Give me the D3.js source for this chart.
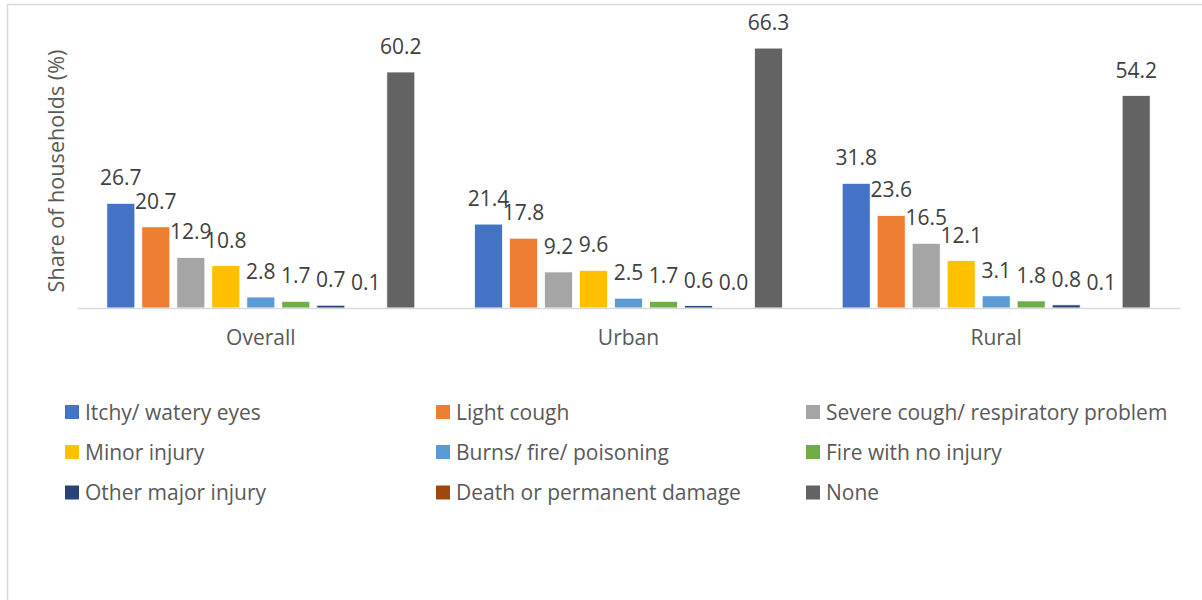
<!DOCTYPE html>
<html>
<head>
<meta charset="utf-8">
<script src="https://cdn.jsdelivr.net/npm/d3@7"></script>
<style>
  html, body { margin: 0; padding: 0; background: #fff; }
  svg { display: block; }
  text { font-family: "Open Sans", sans-serif; }
</style>
</head>
<body>
<svg id="chart" width="1202" height="600"></svg>
<script>
const categories = ["Overall", "Urban", "Rural"];
const seriesNames = [
  "Itchy/ watery eyes", "Light cough", "Severe cough/ respiratory problem",
  "Minor injury", "Burns/ fire/ poisoning", "Fire with no injury",
  "Other major injury", "Death or permanent damage", "None"
];
const seriesColors = ["#4472C4", "#ED7D31", "#A5A5A5", "#FFC000", "#5B9BD5", "#70AD47", "#264478", "#9E480E", "#636363"];
const overallValues = [26.7, 20.7, 12.9, 10.8, 2.8, 1.7, 0.7, 0.1, 60.2];
const urbanValues   = [21.4, 17.8, 9.2, 9.6, 2.5, 1.7, 0.6, 0.0, 66.3];
const ruralValues   = [31.8, 23.6, 16.5, 12.1, 3.1, 1.8, 0.8, 0.1, 54.2];
const valuesByCategory = [overallValues, urbanValues, ruralValues];
const yAxisTitle = "Share of households (%)";

const svg = d3.select("#chart");

// chart border (cropped frame)
svg.append("rect")
  .attr("x", 7.5).attr("y", 4.5).attr("width", 1400).attr("height", 800)
  .attr("fill", "none").attr("stroke", "#d9d9d9").attr("stroke-width", 1.5);

const plotLeft = 77, plotRight = 1180, baseY = 308;
const x0 = d3.scaleBand().domain(categories).range([plotLeft, plotRight]).padding(0);
const x1 = d3.scaleBand().domain(seriesNames).range([0, x0.bandwidth()])
  .paddingInner(0.2).paddingOuter(0.853);
const y = d3.scaleLinear().domain([0, 70]).range([baseY, baseY - 274.4]);

const rows = [];
categories.forEach((c, ci) => {
  seriesNames.forEach((s, si) => {
    rows.push({ cat: c, series: s, si: si, value: valuesByCategory[ci][si] });
  });
});

const g = svg.append("g");

g.selectAll("rect.bar").data(rows).enter().append("rect")
  .attr("class", "bar")
  .attr("x", d => x0(d.cat) + x1(d.series))
  .attr("y", d => y(d.value))
  .attr("width", x1.bandwidth())
  .attr("height", d => baseY - y(d.value))
  .attr("fill", d => seriesColors[d.si])
  .attr("stroke", "#ffffff").attr("stroke-width", 0.75);

// baseline axis
const xAxis = d3.axisBottom(x0).tickSize(0).tickPadding(0);
const axG = svg.append("g").attr("transform", `translate(0,${baseY})`).call(xAxis);
axG.select(".domain").attr("stroke", "#d9d9d9").attr("stroke-width", 1.5);
axG.selectAll(".tick text")
  .attr("y", 37).attr("dy", null)
  .attr("fill", "#595959").style("font-size", "21px")
  .style("font-family", "'Open Sans', sans-serif");

// data labels
g.selectAll("text.lbl").data(rows).enter().append("text")
  .attr("class", "lbl")
  .attr("x", d => x0(d.cat) + x1(d.series) + x1.bandwidth() / 2)
  .attr("y", d => y(d.value) - 18)
  .attr("text-anchor", "middle")
  .attr("fill", "#404040")
  .style("font-size", "21px")
  .text(d => d.value.toFixed(1));

// y axis title
svg.append("text")
  .attr("transform", "translate(64,171) rotate(-90)")
  .attr("text-anchor", "middle")
  .attr("fill", "#595959")
  .style("font-size", "21.6px")
  .text(yAxisTitle);

// legend
const legX = [65, 436, 806];
const legY = [412, 452, 492.5];
const leg = svg.append("g").selectAll("g").data(seriesNames).enter().append("g")
  .attr("transform", (d, i) => `translate(${legX[i % 3]},${legY[Math.floor(i / 3)]})`);
leg.append("rect").attr("x", 0).attr("y", -7).attr("width", 14).attr("height", 14)
  .attr("fill", (d, i) => seriesColors[i]);
leg.append("text").attr("x", 20).attr("y", 7.5)
  .attr("fill", "#595959").style("font-size", "21px")
  .text(d => d);
</script>
</body>
</html>
